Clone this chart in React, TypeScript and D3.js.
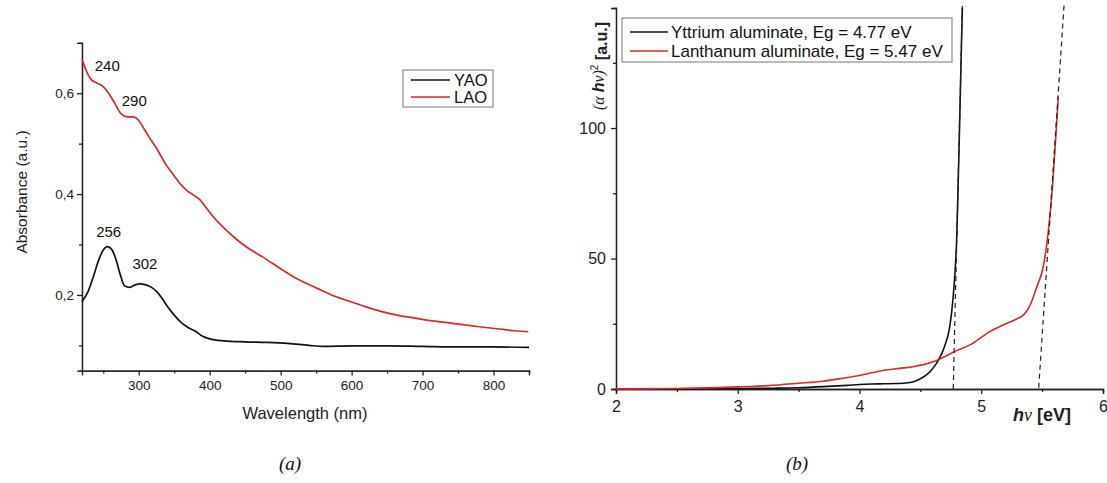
import { useRef, useEffect } from 'react';
import * as d3 from 'd3';

// (a) absorbance spectra
const yaoWavelength = [220, 228, 235, 242, 249, 256, 262, 268, 274, 280, 287, 295, 302, 310, 318, 325, 332, 340, 350, 360, 370, 380, 390, 400, 420, 450, 480, 510, 540, 560, 600, 650, 700, 750, 800, 850];
const yaoAbsorbance = [0.187, 0.205, 0.232, 0.263, 0.287, 0.296, 0.29, 0.27, 0.24, 0.218, 0.215, 0.22, 0.222, 0.22, 0.215, 0.207, 0.195, 0.178, 0.16, 0.145, 0.135, 0.128, 0.118, 0.113, 0.109, 0.107, 0.106, 0.104, 0.1, 0.098, 0.099, 0.099, 0.098, 0.097, 0.097, 0.096];
const laoWavelength = [220, 225, 233, 240, 248, 256, 265, 276, 284, 292, 300, 308, 315, 325, 339, 350, 358, 368, 377, 386, 395, 405, 420, 438, 455, 475, 500, 523, 550, 570, 600, 617, 640, 664, 690, 711, 735, 757, 780, 805, 830, 849];
const laoAbsorbance = [0.668, 0.648, 0.627, 0.621, 0.615, 0.603, 0.583, 0.558, 0.553, 0.553, 0.546, 0.528, 0.512, 0.491, 0.457, 0.436, 0.421, 0.407, 0.398, 0.389, 0.373, 0.355, 0.333, 0.31, 0.292, 0.275, 0.252, 0.232, 0.214, 0.201, 0.186, 0.178, 0.168, 0.16, 0.154, 0.149, 0.145, 0.141, 0.137, 0.133, 0.129, 0.127];
const peakLabels = [
  { text: '240', w: 238, v: 0.655 },
  { text: '290', w: 276, v: 0.585 },
  { text: '256', w: 240, v: 0.325 },
  { text: '302', w: 291, v: 0.261 },
];
const absMajorTicks = [0.2, 0.4, 0.6];
const absMinorTicks = [0.1, 0.3, 0.5, 0.7];
const wlMajorTicks = [300, 400, 500, 600, 700, 800];
const wlMinorTicks = [250, 350, 450, 550, 650, 750, 850];

// (b) Tauc plot
const yttriumEnergy = [2.0, 2.5, 3.0, 3.3, 3.5, 3.7, 3.9, 4.0, 4.1, 4.2, 4.3, 4.4, 4.45, 4.5, 4.55, 4.6, 4.65, 4.7, 4.74, 4.765, 4.785, 4.8, 4.81, 4.82, 4.83, 4.84, 4.845];
const yttriumValue = [0, 0.05, 0.15, 0.3, 0.5, 0.9, 1.4, 1.7, 1.9, 2.0, 2.1, 2.4, 2.9, 3.9, 5.4, 7.8, 11.2, 16.5, 23.5, 33, 45, 60, 78, 97, 117, 137, 146];
const lanthanumEnergy = [2.0, 2.5, 3.0, 3.25, 3.5, 3.7, 3.86, 4.0, 4.1, 4.2, 4.33, 4.45, 4.61, 4.78, 4.93, 5.07, 5.18, 5.29, 5.35, 5.4, 5.455, 5.51, 5.55, 5.587, 5.614, 5.633];
const lanthanumValue = [0, 0.2, 0.8, 1.3, 2.2, 3.0, 4.1, 5.2, 6.2, 7.2, 7.9, 8.6, 10.5, 14.3, 17.5, 22, 24.5, 26.8, 28.5, 32, 39, 47, 60, 79, 98, 112];
const yttriumFit = [[4.77, 0], [4.845, 148]];
const lanthanumFit = [[5.472, 0.5], [5.68, 147]];
const energyMajorTicks = [2, 3, 4, 5, 6];
const energyMinorTicks = [2.5, 3.5, 4.5, 5.5];
const taucMajorTicks = [0, 50, 100];
const taucMinorTicks = [25, 75, 125];

const RED = '#d42a2a';
const SANS = '"Liberation Sans", Arial, sans-serif';
const SERIF = '"Liberation Serif", "Times New Roman", serif';

export default function App() {
  const svgRef = useRef<SVGSVGElement>(null);

  useEffect(() => {
    const svg = d3.select(svgRef.current);
    svg.selectAll('*').remove();

    const drawAxes = (g, x, y, opts) => {
      const bottom = y.range()[0];
      const left = x.range()[0];
      const xa = g.append('g').attr('transform', `translate(0,${bottom})`)
        .call(d3.axisBottom(x).tickValues(opts.xMajor).tickSizeOuter(0).tickSize(5).tickPadding(opts.xPad).tickFormat(opts.xFmt));
      g.append('g').attr('transform', `translate(0,${bottom})`)
        .call(d3.axisBottom(x).tickValues(opts.xMinor).tickSizeOuter(0).tickSize(3).tickFormat(() => ''));
      const ya = g.append('g').attr('transform', `translate(${left},0)`)
        .call(d3.axisLeft(y).tickValues(opts.yMajor).tickSizeOuter(0).tickSize(5).tickPadding(opts.yPad).tickFormat(opts.yFmt));
      g.append('g').attr('transform', `translate(${left},0)`)
        .call(d3.axisLeft(y).tickValues(opts.yMinor).tickSizeOuter(0).tickSize(3).tickFormat(() => ''));
      g.selectAll('.domain, .tick line').attr('stroke', '#222').attr('stroke-width', 1.3);
      [xa, ya].forEach(a => a.selectAll('text')
        .attr('fill', '#222').style('font-family', SANS).style('font-size', opts.fontSize));
    };

    // ---------- (a) ----------
    const xa = d3.scaleLinear().domain([220, 850]).range([82, 529]);
    const ya = d3.scaleLinear().domain([0.05, 0.7]).range([370.6, 42.8]);
    const ga = svg.append('g');
    drawAxes(ga, xa, ya, {
      xMajor: wlMajorTicks, xMinor: wlMinorTicks, yMajor: absMajorTicks, yMinor: absMinorTicks,
      xFmt: d => String(d), yFmt: d => d3.format('.1f')(d).replace('.', ','),
      fontSize: '13.5px', xPad: 5, yPad: 3,
    });

    const lineA = d3.line<number>().curve(d3.curveMonotoneX);
    ga.append('path')
      .attr('d', lineA(yaoWavelength.map((w, i) => [xa(w), ya(yaoAbsorbance[i])])))
      .attr('fill', 'none').attr('stroke', '#111').attr('stroke-width', 1.7);
    ga.append('path')
      .attr('d', lineA(laoWavelength.map((w, i) => [xa(w), ya(laoAbsorbance[i])])))
      .attr('fill', 'none').attr('stroke', RED).attr('stroke-width', 1.7);

    ga.selectAll('text.peak').data(peakLabels).join('text')
      .attr('class', 'peak')
      .attr('x', d => xa(d.w)).attr('y', d => ya(d.v))
      .attr('dy', '0.35em')
      .style('font-family', SANS).style('font-size', '15px').attr('fill', '#111')
      .text(d => d.text);

    ga.append('text')
      .attr('transform', 'translate(22,192) rotate(-90)')
      .attr('text-anchor', 'middle').attr('dy', '0.35em')
      .style('font-family', SANS).style('font-size', '15.5px').attr('fill', '#222')
      .text('Absorbance (a.u.)');
    ga.append('text')
      .attr('x', 305).attr('y', 413).attr('text-anchor', 'middle').attr('dy', '0.35em')
      .style('font-family', SANS).style('font-size', '16.5px').attr('fill', '#222')
      .text('Wavelength (nm)');

    // legend (a)
    const la = ga.append('g');
    la.append('rect').attr('x', 403).attr('y', 70).attr('width', 90).attr('height', 37)
      .attr('fill', 'white').attr('stroke', '#777').attr('stroke-width', 1);
    [['YAO', '#111'], ['LAO', RED]].forEach(([name, color], i) => {
      const cy = 80 + i * 17;
      la.append('line').attr('x1', 411).attr('x2', 450).attr('y1', cy).attr('y2', cy)
        .attr('stroke', color).attr('stroke-width', 1.7);
      la.append('text').attr('x', 454).attr('y', cy).attr('dy', '0.35em')
        .style('font-family', SANS).style('font-size', '16.5px').attr('fill', '#111').text(name);
    });

    // ---------- (b) ----------
    const xb = d3.scaleLinear().domain([2, 6]).range([616, 1103]);
    const yb = d3.scaleLinear().domain([0, 146]).range([389, 8]);
    const gb = svg.append('g');
    drawAxes(gb, xb, yb, {
      xMajor: energyMajorTicks, xMinor: energyMinorTicks, yMajor: taucMajorTicks, yMinor: taucMinorTicks,
      xFmt: d => String(d), yFmt: d => String(d),
      fontSize: '16px', xPad: 7, yPad: 5,
    });

    const lineB = d3.line<number>().curve(d3.curveMonotoneX);
    gb.append('path')
      .attr('d', lineB(yttriumEnergy.map((e, i) => [xb(e), yb(yttriumValue[i])])))
      .attr('fill', 'none').attr('stroke', '#111').attr('stroke-width', 1.6);
    gb.append('path')
      .attr('d', lineB(lanthanumEnergy.map((e, i) => [xb(e), yb(lanthanumValue[i])])))
      .attr('fill', 'none').attr('stroke', RED).attr('stroke-width', 1.6);
    [yttriumFit, lanthanumFit].forEach(fit => {
      gb.append('path')
        .attr('d', d3.line()(fit.map(([e, v]) => [xb(e), yb(v)])))
        .attr('fill', 'none').attr('stroke', '#222').attr('stroke-width', 1.2)
        .attr('stroke-dasharray', '5,4');
    });

    // y label (α hν)² [a.u.]
    const yl = gb.append('text')
      .attr('transform', 'translate(598,66) rotate(-90)')
      .attr('text-anchor', 'middle').attr('dy', '0.35em')
      .style('font-size', '16px').attr('fill', '#222');
    yl.append('tspan').style('font-family', SERIF).style('font-style', 'italic').text('(α ');
    yl.append('tspan').style('font-family', SANS).style('font-style', 'italic').style('font-weight', 'bold').text('h');
    yl.append('tspan').style('font-family', SERIF).style('font-style', 'italic').text('ν)');
    yl.append('tspan').style('font-family', SANS).style('font-size', '10px').attr('dy', '-0.6em').text('2');
    yl.append('tspan').style('font-family', SANS).style('font-weight', 'bold').attr('dy', '0.6em').text(' [a.u.]');

    // x label hν [eV]
    const xl = gb.append('text')
      .attr('x', 1013).attr('y', 415).attr('dy', '0.35em')
      .style('font-size', '18px').attr('fill', '#222');
    xl.append('tspan').style('font-family', SANS).style('font-style', 'italic').style('font-weight', 'bold').text('h');
    xl.append('tspan').style('font-family', SERIF).style('font-style', 'italic').text('ν');
    xl.append('tspan').style('font-family', SANS).style('font-weight', 'bold').text(' [eV]');

    // legend (b)
    const lb = gb.append('g');
    lb.append('rect').attr('x', 622).attr('y', 18).attr('width', 330).attr('height', 44)
      .attr('fill', 'white').attr('stroke', '#777').attr('stroke-width', 1);
    [['Yttrium aluminate, Eg = 4.77 eV', '#111'], ['Lanthanum aluminate, Eg = 5.47 eV', RED]].forEach(([name, color], i) => {
      const cy = 32 + i * 19;
      lb.append('line').attr('x1', 630).attr('x2', 668).attr('y1', cy).attr('y2', cy)
        .attr('stroke', color).attr('stroke-width', 1.6);
      lb.append('text').attr('x', 671).attr('y', cy).attr('dy', '0.35em')
        .style('font-family', SANS).style('font-size', '17px').attr('fill', '#111').text(name);
    });

    // captions
    [['(a)', 290], ['(b)', 797]].forEach(([t, x]) => {
      svg.append('text').attr('x', x).attr('y', 463).attr('text-anchor', 'middle').attr('dy', '0.35em')
        .style('font-family', SERIF).style('font-style', 'italic').style('font-size', '19px')
        .attr('fill', '#111').text(t);
    });
  }, []);

  return (
    <div style={{ position: 'absolute', left: 0, top: 0 }}>
      <svg ref={svgRef} width={1107} height={483} style={{ display: 'block', background: 'white' }} />
    </div>
  );
}
